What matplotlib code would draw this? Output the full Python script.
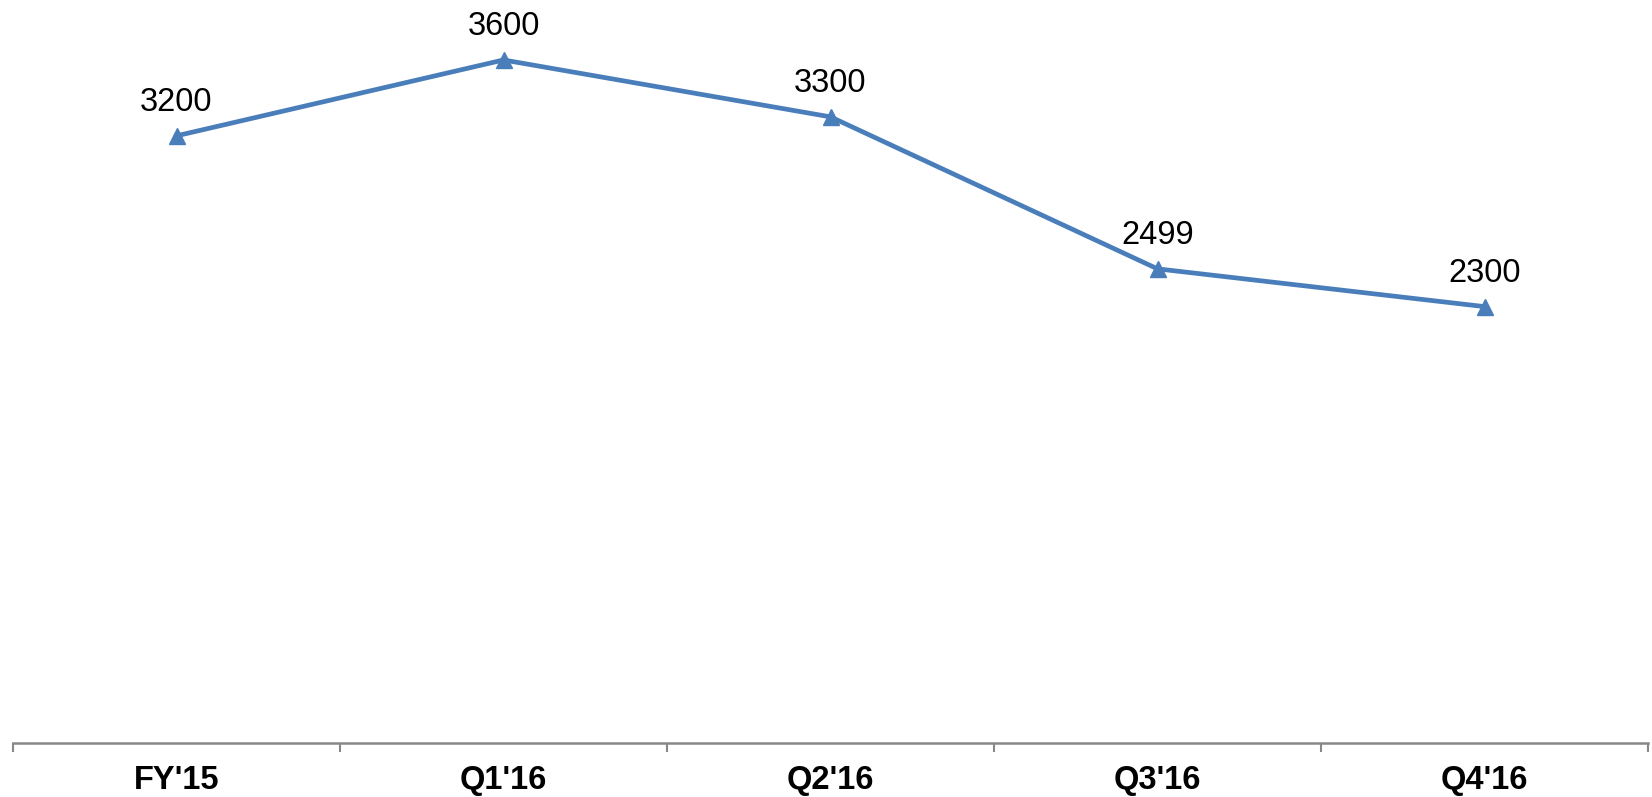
import matplotlib.pyplot as plt

plt.rcParams['font.family'] = ['Liberation Sans', 'DejaVu Sans']

periods = ["FY'15", "Q1'16", "Q2'16", "Q3'16", "Q4'16"]
values = [3200, 3600, 3300, 2499, 2300]

fig = plt.figure(figsize=(16.52, 7.97), dpi=100)
ax = fig.add_axes([13 / 1652, 54 / 797, 1635 / 1652, 743 / 797])

x = list(range(len(periods)))
ax.plot(x, values, color='#4A7EBB', lw=3.4, marker='^', ms=11, zorder=3)

for xi, v in zip(x, values):
    ax.annotate(str(v), (xi, v), xytext=(0, 18), textcoords='offset points',
                ha='center', va='baseline', fontsize=23.5)

ax.set_xlim(-0.5, len(periods) - 0.5)
ax.set_ylim(0, 3916)

ax.set_xticks(x)
ax.set_xticklabels(periods, fontsize=23.5, fontweight='bold')
ax.set_xticks([i - 0.5 for i in range(len(periods) + 1)], minor=True)
ax.tick_params(axis='x', which='major', length=0, pad=16)
ax.tick_params(axis='x', which='minor', length=6.5, width=1.5, color='#888888', direction='out')
ax.set_yticks([])

for side in ['top', 'left', 'right']:
    ax.spines[side].set_visible(False)
ax.spines['bottom'].set_color('#888888')
ax.spines['bottom'].set_linewidth(1.8)

fig.savefig('out.png', dpi=100)
